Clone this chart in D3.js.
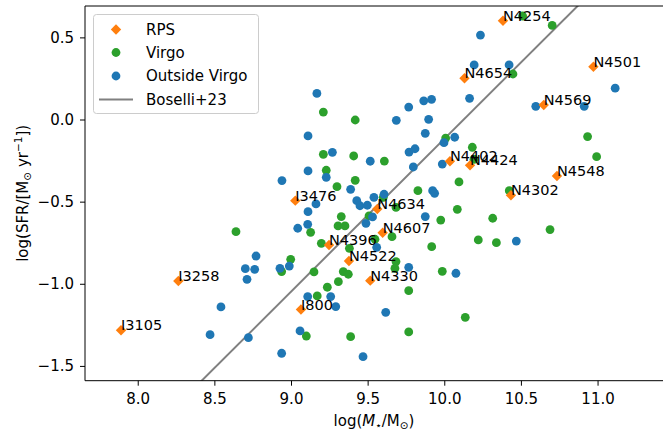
<!DOCTYPE html>
<html>
<head>
<meta charset="utf-8">
<script src="https://cdn.jsdelivr.net/npm/d3@7"></script>
<style>
  body { margin: 0; background: white; }
  text { font-family: "DejaVu Sans", sans-serif; }
</style>
</head>
<body>
<div id="chartContainer"></div>
<script>
// RPS galaxies : name, log M*, log SFR
var rpsNames = ["I3105","I3258","I800","I3476","N4396","N4522","N4330","N4634","N4607","N4402","N4424","N4302","N4548","N4569","N4654","N4254","N4501"];
var rpsMass  = [7.891, 8.265, 9.065, 9.028, 9.248, 9.378, 9.517, 9.563, 9.598, 10.037, 10.168, 10.435, 10.735, 10.649, 10.132, 10.383, 10.973];
var rpsSfr   = [-1.283, -0.983, -1.157, -0.494, -0.764, -0.861, -0.981, -0.545, -0.689, -0.254, -0.279, -0.461, -0.344, 0.088, 0.251, 0.601, 0.321];

// Virgo
var virgoMass = [10.511, 10.704, 10.448, 9.211, 9.419, 10.009, 10.935, 10.183, 10.194, 10.994, 9.211, 9.409, 9.609, 9.230, 9.419, 9.300, 10.096, 9.828, 10.424, 9.602,
                 9.685, 10.085, 9.328, 9.509, 9.977, 10.316, 8.641, 9.128, 9.307, 9.352, 9.659, 9.548, 9.198, 9.381, 9.918, 10.222, 8.998, 8.939, 9.150, 9.341,
                 9.374, 9.309, 9.685, 9.678, 9.987, 9.768, 9.237, 9.171, 10.137, 9.100, 9.389, 9.768, 10.34, 10.69];
var virgoSfr  = [0.630, 0.573, 0.277, 0.045, -0.003, -0.113, -0.104, -0.169, -0.242, -0.226, -0.212, -0.222, -0.253, -0.309, -0.370, -0.409, -0.380, -0.433, -0.433, -0.474,
                 -0.535, -0.547, -0.591, -0.587, -0.612, -0.601, -0.683, -0.687, -0.648, -0.648, -0.713, -0.729, -0.754, -0.784, -0.774, -0.733, -0.851, -0.926, -0.928, -0.926,
                 -0.942, -0.987, -0.865, -0.906, -0.924, -1.042, -1.021, -1.074, -1.204, -1.318, -1.322, -1.293, -0.75, -0.67];

// Outside Virgo
var outMass = [10.236, 10.195, 10.423, 9.169, 10.165, 9.866, 9.917, 9.768, 10.597, 10.913, 11.115, 9.898, 9.687, 9.876, 9.111, 10.068, 9.998, 9.770, 9.809, 9.270,
               9.517, 9.798, 9.987, 9.111, 9.230, 8.941, 9.389, 9.924, 9.937, 9.163, 9.429, 9.450, 9.498, 9.541, 9.607, 9.111, 9.876, 9.532, 9.489, 9.044,
               9.109, 9.559, 8.928, 8.989, 9.768, 10.076, 9.109, 9.259, 9.292, 9.618, 9.059, 8.939, 9.470, 8.772, 8.702, 8.763, 8.713, 8.543, 8.472, 8.722, 10.47];
var outSfr  = [0.514, 0.332, 0.332, 0.159, 0.129, 0.114, 0.123, 0.076, 0.080, 0.080, 0.191, 0.001, -0.005, -0.084, -0.100, -0.108, -0.141, -0.198, -0.178, -0.200,
               -0.254, -0.289, -0.271, -0.313, -0.352, -0.372, -0.425, -0.433, -0.449, -0.514, -0.494, -0.525, -0.522, -0.474, -0.455, -0.561, -0.591, -0.593, -0.632, -0.662,
               -0.638, -0.778, -0.906, -0.892, -0.900, -0.936, -1.078, -1.078, -1.139, -1.174, -1.287, -1.423, -1.444, -0.831, -0.908, -0.912, -0.973, -1.141, -1.310, -1.328, -0.74];

// Boselli+23 relation
var boselliSlope = 0.93;
var boselliIntercept = -9.418;
var boselliRange = [7.5, 11.5];

var xTicks = [8.0, 8.5, 9.0, 9.5, 10.0, 10.5, 11.0];
var yTicks = [0.5, 0.0, -0.5, -1.0, -1.5];

var legendLabels = ["RPS", "Virgo", "Outside Virgo", "Boselli+23"];

var colorsVector = ["#ff7f0e", "#2ca02c", "#1f77b4", "#808080"];

function init(){
    var W = 663, H = 434;
    var left = 85, right = 663, top = 6, bottom = 380.7;
    var fs = "15px";

    var svg = d3.select("#chartContainer").append("svg").attr("width", W).attr("height", H);

    var x = d3.scaleLinear().domain([7.656, 11.427]).range([left, right]);
    var y = d3.scaleLinear().domain([-1.590, 0.691]).range([bottom, top]);

    svg.append("defs").append("clipPath").attr("id","plotClip")
       .append("rect").attr("x",left).attr("y",top).attr("width",right-left).attr("height",bottom-top);

    //---------------------------------------------------------------------------------------------------------//
    //                                                  AXES                                                   //
    //---------------------------------------------------------------------------------------------------------//
    var fmt = d3.format(".1f");
    var xAxis = svg.append("g").attr("transform","translate(0,"+bottom+")")
                   .call(d3.axisBottom(x).tickValues(xTicks).tickFormat(fmt).tickSize(5).tickPadding(7.5));
    var yAxis = svg.append("g").attr("transform","translate("+left+",0)")
                   .call(d3.axisLeft(y).tickValues(yTicks).tickFormat(fmt).tickSize(5).tickPadding(6));
    [xAxis, yAxis].forEach(function(a){
        a.select(".domain").remove();
        a.selectAll("line").attr("stroke","black").attr("stroke-width",1);
        a.selectAll("text").attr("font-size",fs).attr("fill","black").style("font-family","DejaVu Sans");
    });

    var plot = svg.append("g").attr("clip-path","url(#plotClip)");

    // line
    var lineData = boselliRange.map(function(m){ return [m, boselliSlope*m + boselliIntercept]; });
    plot.append("path").datum(lineData)
        .attr("d", d3.line().x(function(d){return x(d[0]);}).y(function(d){return y(d[1]);}))
        .attr("fill","none").attr("stroke",colorsVector[3]).attr("stroke-width",2);

    // Virgo
    plot.selectAll(".virgo").data(d3.zip(virgoMass, virgoSfr)).enter().append("circle")
        .attr("cx", function(d){return x(d[0]);}).attr("cy", function(d){return y(d[1]);})
        .attr("r", 4.4).attr("fill", colorsVector[1]);

    // Outside Virgo
    plot.selectAll(".out").data(d3.zip(outMass, outSfr)).enter().append("circle")
        .attr("cx", function(d){return x(d[0]);}).attr("cy", function(d){return y(d[1]);})
        .attr("r", 4.4).attr("fill", colorsVector[2]);

    // RPS diamonds + names
    var diamond = "M0,-5.2L5.2,0L0,5.2L-5.2,0Z";
    var rps = d3.zip(rpsNames, rpsMass, rpsSfr);
    plot.selectAll(".rps").data(rps).enter().append("path")
        .attr("d", diamond)
        .attr("transform", function(d){return "translate("+x(d[1])+","+y(d[2])+")";})
        .attr("fill", colorsVector[0]);
    svg.selectAll(".rpsLabel").data(rps).enter().append("text")
        .attr("x", function(d){return x(d[1]);}).attr("y", function(d){return y(d[2]);})
        .attr("font-size","14.5px").attr("fill","black")
        .text(function(d){return d[0];});

    // frame (right side falls off the picture)
    svg.append("path").attr("d","M"+left+","+bottom+"V"+top+"H"+right+" M"+left+","+bottom+"H"+right)
       .attr("fill","none").attr("stroke","black").attr("stroke-width",1);

    //---------------------------------------------------------------------------------------------------------//
    //                                                 LEGEND                                                  //
    //---------------------------------------------------------------------------------------------------------//
    var leg = svg.append("g");
    leg.append("rect").attr("x",93.5).attr("y",14.5).attr("width",165).attr("height",99).attr("rx",3)
       .attr("fill","white").attr("fill-opacity",0.8).attr("stroke","#cccccc").attr("stroke-width",1);
    var rowY = [29.5, 52.5, 76, 99.5];
    leg.append("path").attr("d", diamond).attr("transform","translate(116,"+rowY[0]+")").attr("fill",colorsVector[0]);
    leg.append("circle").attr("cx",116).attr("cy",rowY[1]).attr("r",4.4).attr("fill",colorsVector[1]);
    leg.append("circle").attr("cx",116).attr("cy",rowY[2]).attr("r",4.4).attr("fill",colorsVector[2]);
    leg.append("line").attr("x1",99).attr("x2",133).attr("y1",rowY[3]).attr("y2",rowY[3])
       .attr("stroke",colorsVector[3]).attr("stroke-width",2);
    leg.selectAll(".legText").data(legendLabels).enter().append("text")
       .attr("x",146).attr("y",function(d,i){return rowY[i];}).attr("dy","0.36em")
       .attr("font-size",fs).attr("fill","black").text(function(d){return d;});

    //---------------------------------------------------------------------------------------------------------//
    //                                                 LABELS                                                  //
    //---------------------------------------------------------------------------------------------------------//
    var xl = svg.append("text").attr("x",(left+right)/2).attr("y",426).attr("text-anchor","middle")
                .attr("font-size",fs).attr("fill","black");
    xl.append("tspan").text("log(");
    xl.append("tspan").attr("font-style","italic").text("M");
    xl.append("tspan").attr("font-size","10.5px").attr("dy",2.5).text("⋆");
    xl.append("tspan").attr("dy",-2.5).text("/M");
    xl.append("tspan").attr("font-size","10.5px").attr("dy",2.5).text("⊙");
    xl.append("tspan").attr("dy",-2.5).text(")");

    var yl = svg.append("text").attr("transform","translate(28,"+((top+bottom)/2)+") rotate(-90)")
                .attr("text-anchor","middle").attr("font-size",fs).attr("fill","black");
    yl.append("tspan").text("log(SFR/[M");
    yl.append("tspan").attr("font-size","10.5px").attr("dy",2.5).text("⊙");
    yl.append("tspan").attr("dy",-2.5).text(" yr");
    yl.append("tspan").attr("font-size","10.5px").attr("dy",-6).text("−1");
    yl.append("tspan").attr("dy",6).text("])");
}
init();
</script>
</body>
</html>
